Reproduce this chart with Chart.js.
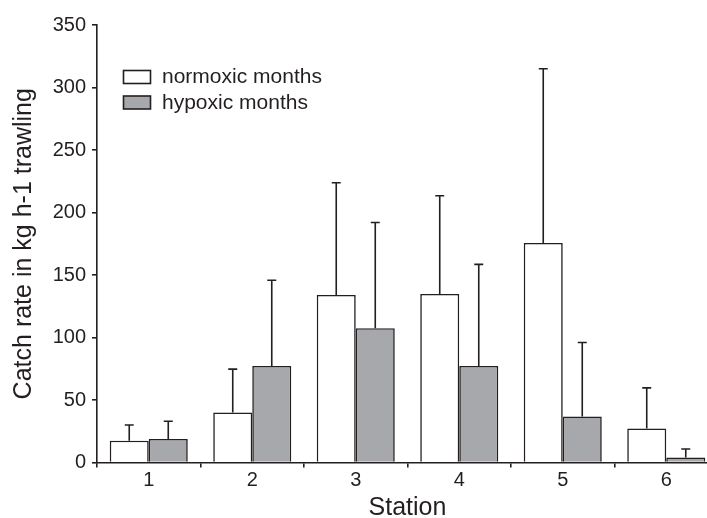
<!DOCTYPE html>
<html>
<head>
<meta charset="utf-8">
<script src="https://cdn.jsdelivr.net/npm/chart.js@4.4.1/dist/chart.umd.min.js"></script>
<style>
  html, body { margin: 0; padding: 0; background: #fff; overflow: hidden; }
  #wrap { width: 720px; height: 518px; }
</style>
</head>
<body>
<div id="wrap"><canvas id="catchChart" width="720" height="518"></canvas></div>
<script>
// Dados
const stations = ['1', '2', '3', '4', '5', '6'];
const normoxic = [17.4, 40, 134, 134.8, 175.6, 27.3];
const normoxicErr = [30, 74.7, 223.8, 213.4, 315, 59.7]; // topo da barra de erro
const hypoxic = [18.8, 77.3, 107.4, 77.3, 36.9, 4.1];
const hypoxicErr = [33, 145.8, 192, 158.5, 96, 10.8];
const yTicks = [0, 50, 100, 150, 200, 250, 300, 350];

const INK = '#231f20';
const GREY = '#a7a8ab';
const FONT = '"Liberation Sans", Arial, sans-serif';

// Barras de erro (só para cima)
const errorBars = {
    id: 'errorBars',
    afterDatasetsDraw(chart) {
        const ctx = chart.ctx;
        const y = chart.scales.y;
        const tops = [normoxicErr, hypoxicErr];
        ctx.save();
        ctx.strokeStyle = INK;
        ctx.lineWidth = 1.6;
        chart.data.datasets.forEach((ds, i) => {
            chart.getDatasetMeta(i).data.forEach((bar, j) => {
                const yTop = y.getPixelForValue(tops[i][j]);
                ctx.beginPath();
                ctx.moveTo(bar.x, bar.y);
                ctx.lineTo(bar.x, yTop);
                ctx.moveTo(bar.x - 4.5, yTop);
                ctx.lineTo(bar.x + 4.5, yTop);
                ctx.stroke();
            });
        });
        ctx.restore();
    }
};

// Legenda dentro da área do gráfico
const boxLegend = {
    id: 'boxLegend',
    afterDraw(chart) {
        const ctx = chart.ctx;
        ctx.save();
        ctx.font = '21px ' + FONT;
        ctx.textBaseline = 'middle';
        chart.data.datasets.forEach((ds, i) => {
            const top = 70.5 + i * 25.5;
            ctx.fillStyle = ds.backgroundColor;
            ctx.fillRect(123.5, top, 27, 13);
            ctx.strokeStyle = INK;
            ctx.lineWidth = 1.6;
            ctx.strokeRect(123.5, top, 27, 13);
            ctx.fillStyle = INK;
            ctx.fillText(ds.label, 162, top + 7);
        });
        ctx.restore();
    }
};

new Chart(document.getElementById('catchChart'), {
    type: 'bar',
    data: {
        labels: stations,
        datasets: [{
            label: 'normoxic months',
            data: normoxic,
            backgroundColor: '#ffffff',
            borderColor: INK,
            borderWidth: 1.6
        }, {
            label: 'hypoxic months',
            data: hypoxic,
            backgroundColor: GREY,
            borderColor: INK,
            borderWidth: 1.6
        }]
    },
    options: {
        responsive: false,
        animation: false,
        categoryPercentage: 0.754,
        barPercentage: 1,
        layout: { padding: { top: 25, right: 2 } },
        plugins: {
            legend: { display: false },
            tooltip: { enabled: false }
        },
        scales: {
            x: {
                grid: { offset: true, drawOnChartArea: false, tickLength: 5, color: INK, lineWidth: 1.6 },
                border: { color: INK, width: 1.6 },
                ticks: { color: INK, font: { family: FONT, size: 20 }, padding: 1 },
                title: { display: true, text: 'Station', color: INK, font: { family: FONT, size: 25 }, padding: { top: 0, bottom: -5 } },
                afterFit(scale) { scale.height = 55.5; }
            },
            y: {
                min: 0,
                max: 350,
                afterBuildTicks(scale) { scale.ticks = yTicks.map(v => ({ value: v })); },
                grid: { drawOnChartArea: false, tickLength: 5, color: INK, lineWidth: 1.6 },
                border: { color: INK, width: 1.6 },
                ticks: { color: INK, font: { family: FONT, size: 20 }, padding: 6 },
                title: { display: true, text: 'Catch rate in kg h-1 trawling', color: INK, font: { family: FONT, size: 25 }, padding: { top: 9, bottom: 0 } },
                afterFit(scale) { scale.width = 97; }
            }
        }
    },
    plugins: [errorBars, boxLegend]
});
</script>
</body>
</html>
